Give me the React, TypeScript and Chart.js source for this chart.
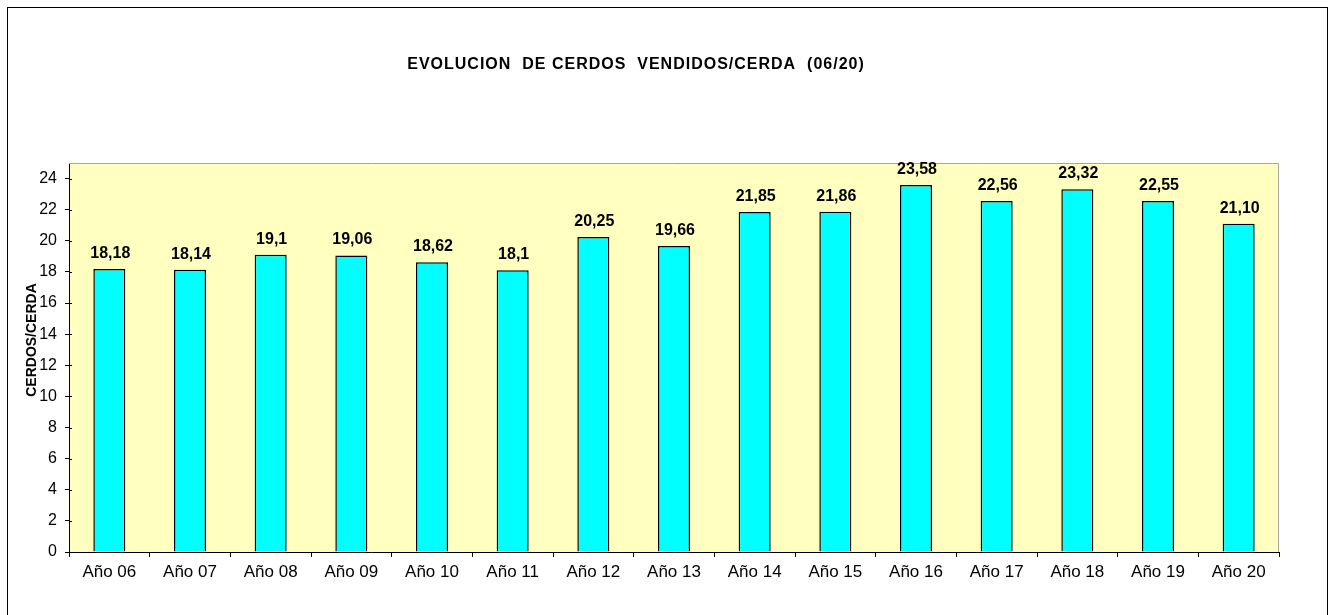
import React, { useEffect, useRef } from "react";
import { Chart, registerables } from "chart.js";

Chart.register(...registerables);

const categories = ["Año 06", "Año 07", "Año 08", "Año 09", "Año 10", "Año 11", "Año 12", "Año 13", "Año 14", "Año 15", "Año 16", "Año 17", "Año 18", "Año 19", "Año 20"];
const values = [18.18, 18.14, 19.1, 19.06, 18.62, 18.1, 20.25, 19.66, 21.85, 21.86, 23.58, 22.56, 23.32, 22.55, 21.1];
const valueLabels = ["18,18", "18,14", "19,1", "19,06", "18,62", "18,1", "20,25", "19,66", "21,85", "21,86", "23,58", "22,56", "23,32", "22,55", "21,10"];
const yTickValues = [0, 2, 4, 6, 8, 10, 12, 14, 16, 18, 20, 22, 24];
const titleText = "EVOLUCION  DE CERDOS  VENDIDOS/CERDA  (06/20)";
const yTitleText = "CERDOS/CERDA";
const yMin = 0;
const yMax = 25;

const FONT = '"Liberation Sans", Arial, Helvetica, sans-serif';

const decor = {
  id: "decor",
  beforeDraw(chart: any) {
    const { ctx, chartArea: a } = chart;
    ctx.save();
    ctx.fillStyle = "#FFFFC0";
    ctx.fillRect(a.left, a.top, a.right - a.left, a.bottom - a.top);
    ctx.restore();
  },
  afterDraw(chart: any) {
    const { ctx, chartArea: a } = chart;
    ctx.save();
    ctx.strokeStyle = "#A8A898";
    ctx.lineWidth = 1;
    ctx.beginPath();
    ctx.moveTo(a.left, a.top + 0.5);
    ctx.lineTo(a.right - 0.5, a.top + 0.5);
    ctx.lineTo(a.right - 0.5, a.bottom);
    ctx.stroke();
    const ys = chart.scales.y;
    ctx.strokeStyle = "#000";
    ctx.beginPath();
    ys.ticks.forEach((t: any) => {
      const py = Math.round(ys.getPixelForValue(t.value)) + 0.5;
      ctx.moveTo(a.left, py);
      ctx.lineTo(a.left + 3, py);
    });
    ctx.stroke();
    ctx.fillStyle = "#000";
    ctx.font = "bold 16px " + FONT;
    ctx.textAlign = "center";
    ctx.textBaseline = "middle";
    try { (ctx as any).letterSpacing = "1px"; } catch (e) {}
    ctx.fillText(titleText, 628, 57);
    try { (ctx as any).letterSpacing = "0px"; } catch (e) {}
    ctx.save();
    ctx.translate(24, 332);
    ctx.rotate(-Math.PI / 2);
    ctx.font = "bold 14px " + FONT;
    ctx.fillText(yTitleText, 0, 0);
    ctx.restore();
    const meta = chart.getDatasetMeta(0);
    ctx.font = "bold 16px " + FONT;
    ctx.textBaseline = "alphabetic";
    meta.data.forEach((bar: any, i: number) => {
      ctx.fillText(valueLabels[i], bar.x + 1, bar.y - 11);
    });
    ctx.restore();
  },
};

export default function App() {
  const ref = useRef<HTMLCanvasElement>(null);
  useEffect(() => {
    if (!ref.current) return;
    const chart = new Chart(ref.current, {
      type: "bar",
      data: {
        labels: categories,
        datasets: [
          {
            data: values,
            backgroundColor: "#00FFFF",
            borderColor: "#000000",
            borderWidth: 1.5,
            barPercentage: 0.397,
            categoryPercentage: 1,
          },
        ],
      },
      options: {
        responsive: false,
        animation: false,
        devicePixelRatio: 1,
        layout: { padding: { left: 0, right: 47, top: 155, bottom: 0 } },
        plugins: { legend: { display: false }, title: { display: false }, tooltip: { enabled: false } },
        scales: {
          x: {
            grid: { offset: true, drawOnChartArea: false, drawTicks: true, tickLength: 5, color: "#000" },
            border: { display: true, color: "#000", width: 1 },
            ticks: { color: "#000", font: { family: FONT, size: 17 }, padding: 5, maxRotation: 0, autoSkip: false },
            afterFit(scale: any) {
              scale.height = 63;
            },
          },
          y: {
            min: yMin,
            max: yMax,
            grid: { drawOnChartArea: false, drawTicks: true, tickLength: 4, color: "#000" },
            border: { display: true, color: "#000", width: 1 },
            ticks: { color: "#000", font: { family: FONT, size: 16 }, padding: 8 },
            afterBuildTicks(scale: any) {
              scale.ticks = yTickValues.map((v) => ({ value: v }));
            },
            afterFit(scale: any) {
              scale.width = 61;
            },
          },
        },
      },
      plugins: [decor],
    });
    return () => chart.destroy();
  }, []);
  return (
    <div
      style={{
        position: "absolute",
        left: 7,
        top: 7,
        width: 1319,
        height: 608,
        borderLeft: "1px solid #000",
        borderTop: "1px solid #000",
        borderRight: "1px solid #000",
        background: "#fff",
      }}
    >
      <canvas ref={ref} width={1318} height={607} style={{ display: "block", width: 1318, height: 607 }} />
    </div>
  );
}
